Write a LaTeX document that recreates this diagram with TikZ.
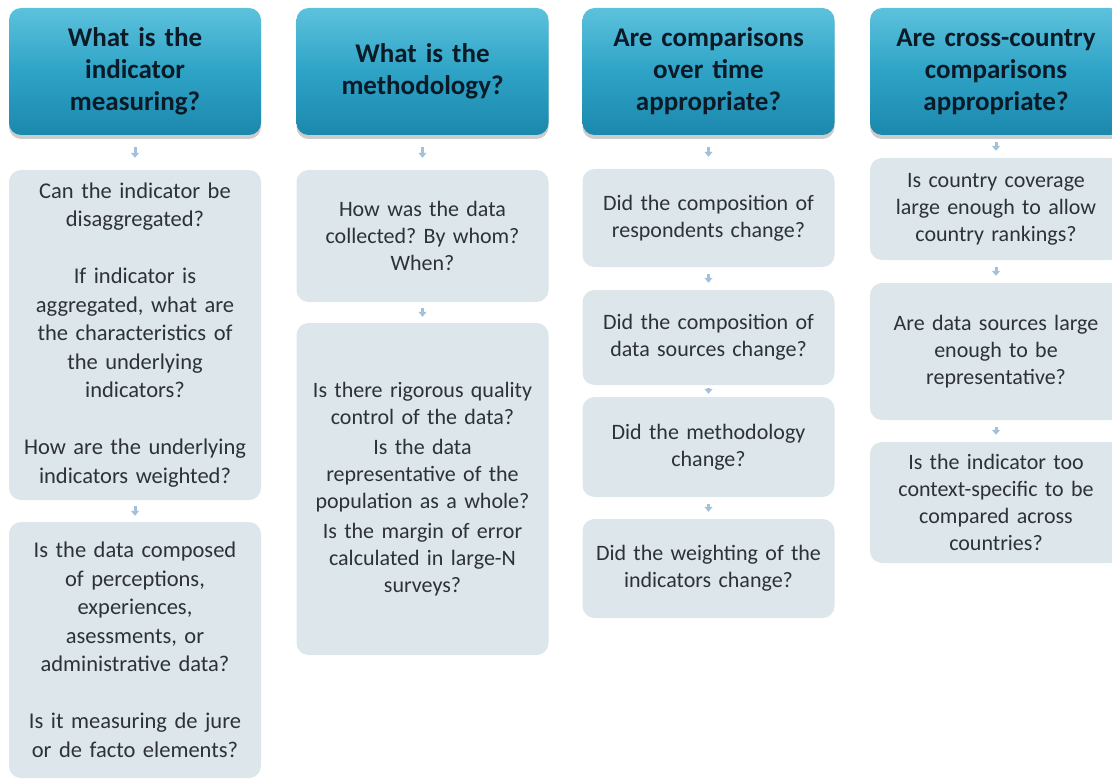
\documentclass[tikz,border=0pt]{standalone}
\usepackage{fontspec}
\setmainfont{Carlito}
\usetikzlibrary{arrows.meta,shadows}

\definecolor{hdtop}{HTML}{5CC2DC}
\definecolor{hdmid}{HTML}{2EA3C6}
\definecolor{hdbot}{HTML}{1B88AC}
\definecolor{hdtext}{HTML}{0B1A26}
\definecolor{qfill}{HTML}{DCE6EB}
\definecolor{qtext}{HTML}{2E3236}
\definecolor{flowblue}{HTML}{A3C1DA}

\tikzset{
  head/.style={rounded corners=12pt, top color=hdtop, bottom color=hdbot, middle color=hdmid,
    minimum width=252pt, text width=248pt, align=center, inner sep=0pt,
    font=\fontsize{27}{32}\selectfont\bfseries, text=hdtext,
    drop shadow={shadow xshift=0pt, shadow yshift=-4pt, opacity=0.4}},
  quest/.style={rounded corners=12pt, fill=qfill, minimum width=252pt, text width=250pt,
    align=center, inner sep=0pt, font=\fontsize{22.5}{28.5}\selectfont, text=qtext},
  flow/.style={draw=flowblue, line width=3pt, -{Triangle[width=8pt,length=5pt]},
    shorten <=#1, shorten >=#1},
  flow/.default=8pt
}

\begin{document}
\frenchspacing
\begin{tikzpicture}[x=1pt,y=1pt,yscale=-1,xscale=1]
\useasboundingbox (0,0) rectangle (1112,781);

% Headers
\draw (135,71.5) node (hMeas) [head, minimum height=127pt] {What is the\\indicator\\measuring?};
\draw (422.5,71.5) node (hMeth) [head, minimum height=127pt] {What is the\\methodology?};
\draw (708.5,71.5) node (hTime) [head, minimum height=127pt] {Are comparisons\\over time\\appropriate?};
\draw (996,71.5) node (hCross) [head, minimum height=127pt] {Are cross-country\\comparisons\\appropriate?};

% Column 1
\draw (135,335) node (qDisagg) [quest, minimum height=330pt] {Can the indicator be\\disaggregated?\\[28.5pt]If indicator is\\aggregated, what are\\the characteristics of\\the underlying\\indicators?\\[28.5pt]How are the underlying\\indicators weighted?};
\draw (135,650) node (qPercep) [quest, minimum height=256pt] {Is the data composed\\of perceptions,\\experiences,\\asessments, or\\administrative data?\\[28.5pt]Is it measuring de jure\\or de facto elements?};

% Column 2
\draw (422.5,236) node (qCollect) [quest, minimum height=132pt, font=\fontsize{22}{27}\selectfont] {How was the data\\collected? By whom?\\When?};
\draw (422.5,489) node (qQuality) [quest, minimum height=332pt, font=\fontsize{22}{27}\selectfont] {Is there rigorous quality\\control of the data?\\[3pt]Is the data\\representative of the\\population as a whole?\\[3pt]Is the margin of error\\calculated in large-N\\surveys?};

% Column 3
\draw (708.5,218) node (qResp) [quest, minimum height=98pt, font=\fontsize{22}{27}\selectfont] {Did the composition of\\respondents change?};
\draw (708.5,337.5) node (qSources) [quest, minimum height=95pt, font=\fontsize{22}{27}\selectfont] {Did the composition of\\data sources change?};
\draw (708.5,447) node (qMethod) [quest, minimum height=100pt, font=\fontsize{22}{27}\selectfont] {Did the methodology\\change?};
\draw (708.5,568.5) node (qWeight) [quest, minimum height=99pt, font=\fontsize{22}{27}\selectfont] {Did the weighting of the\\indicators change?};

% Column 4
\draw (996,209) node (qCover) [quest, minimum height=102pt, font=\fontsize{22}{27}\selectfont] {Is country coverage\\large enough to allow\\country rankings?};
\draw (996,351.5) node (qLarge) [quest, minimum height=137pt, font=\fontsize{22}{27}\selectfont] {Are data sources large\\enough to be\\representative?};
\draw (996,502.5) node (qContext) [quest, minimum height=121pt, font=\fontsize{22}{27}\selectfont] {Is the indicator too\\context-specific to be\\compared across\\countries?};

% Arrows
\draw[flow=12pt] (hMeas) -- (qDisagg);
\draw[flow=6pt] (qDisagg) -- (qPercep);
\draw[flow=12pt] (hMeth) -- (qCollect);
\draw[flow=6pt] (qCollect) -- (qQuality);
\draw[flow=12pt] (hTime) -- (qResp);
\draw[flow=7pt] (qResp) -- (qSources);
\draw[flow=3pt] (qSources) -- (qMethod);
\draw[flow=7pt] (qMethod) -- (qWeight);
\draw[flow=7pt] (hCross) -- (qCover);
\draw[flow=7pt] (qCover) -- (qLarge);
\draw[flow=7pt] (qLarge) -- (qContext);
\end{tikzpicture}
\end{document}
